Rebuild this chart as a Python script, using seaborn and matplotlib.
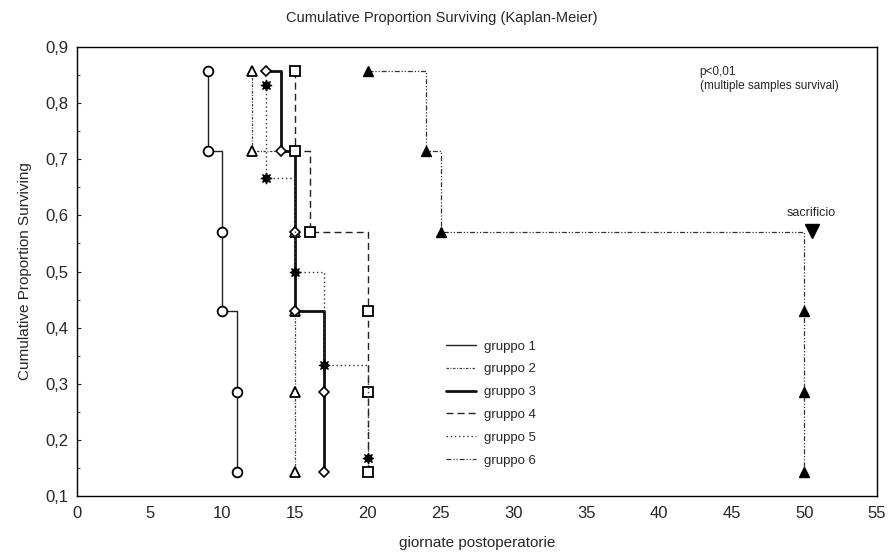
import seaborn as sns
import matplotlib.pyplot as plt
from matplotlib.lines import Line2D
from matplotlib.ticker import MultipleLocator, FuncFormatter

# Kaplan-Meier event points per group (time, cumulative proportion surviving)
labels = ['gruppo 1', 'gruppo 2', 'gruppo 3', 'gruppo 4', 'gruppo 5', 'gruppo 6']

t1 = [9, 9, 10, 10, 11, 11]
s1 = [0.857, 0.714, 0.571, 0.429, 0.286, 0.143]
t2 = [12, 12, 15, 15, 15, 15]
s2 = [0.857, 0.714, 0.571, 0.429, 0.286, 0.143]
t3 = [13, 14, 15, 15, 17, 17]
s3 = [0.857, 0.714, 0.571, 0.429, 0.286, 0.143]
t4 = [15, 15, 16, 20, 20, 20]
s4 = [0.857, 0.714, 0.571, 0.429, 0.286, 0.143]
t5 = [13, 13, 15, 17, 20]
s5 = [0.833, 0.667, 0.500, 0.333, 0.167]
t6 = [20, 24, 25, 50, 50, 50]
s6 = [0.857, 0.714, 0.571, 0.429, 0.286, 0.143]

times = [t1, t2, t3, t4, t5, t6]
surv = [s1, s2, s3, s4, s5, s6]

sns.set_style('white')
plt.rcParams['font.family'] = ['Liberation Sans', 'DejaVu Sans']

dash_dot_dot = (0, (4, 1.5, 1, 1.5, 1, 1.5))
styles = [
    dict(ls='-', lw=1.0, color='#222222'),
    dict(ls=(0, (2, 1.2, 0.8, 1.2)), lw=0.9, color='#444444'),
    dict(ls='-', lw=2.0, color='#111111'),
    dict(ls=(0, (5, 3)), lw=1.0, color='#222222'),
    dict(ls=(0, (1, 2)), lw=1.0, color='#333333'),
    dict(ls=dash_dot_dot, lw=0.9, color='#333333'),
]
markers = [
    dict(marker='o', ms=7, mfc='white', mec='black', mew=1.3),
    dict(marker='^', ms=7, mfc='white', mec='black', mew=1.3),
    dict(marker='D', ms=5.5, mfc='white', mec='black', mew=1.2),
    dict(marker='s', ms=7, mfc='white', mec='black', mew=1.3),
    dict(marker=(8, 1, 0), ms=8, mfc='black', mec='black', mew=0.8),
    dict(marker='^', ms=7, mfc='black', mec='black', mew=1.0),
]

fig = plt.figure(figsize=(8.89, 5.54), dpi=100)
ax = fig.add_axes([0.0866, 0.1047, 0.9, 0.8103])

for t, s, st, mk in zip(times, surv, styles, markers):
    sns.lineplot(x=t, y=s, ax=ax, estimator=None, sort=False,
                 drawstyle='steps-post', zorder=3, **st, **mk)

ax.set_xlim(0, 55)
ax.set_ylim(0.1, 0.9)
ax.xaxis.set_major_locator(MultipleLocator(5))
ax.yaxis.set_major_locator(MultipleLocator(0.1))
ax.yaxis.set_minor_locator(MultipleLocator(0.05))
ax.yaxis.set_major_formatter(FuncFormatter(lambda v, p: f'{v:.1f}'.replace('.', ',')))
ax.tick_params(axis='y', which='major', direction='in', length=3, labelsize=12, pad=6, left=True)
ax.tick_params(axis='y', which='minor', direction='in', length=2, left=True)
ax.tick_params(axis='x', length=0, labelsize=12, pad=7)
for sp in ax.spines.values():
    sp.set_color('black')
    sp.set_linewidth(1.0)

ax.set_xlabel('giornate postoperatorie', fontsize=11, labelpad=11)
ax.set_ylabel('Cumulative Proportion Surviving', fontsize=11, labelpad=10)
fig.text(0.497, 0.967, 'Cumulative Proportion Surviving (Kaplan-Meier)',
         ha='center', va='center', fontsize=10.5)

ax.text(42.8, 0.843, 'p<0,01\n(multiple samples survival)', fontsize=8.5,
        ha='left', va='center', linespacing=1.15)
ax.text(50.5, 0.604, 'sacrificio', fontsize=9, ha='center', va='center')
ax.plot([50.5], [0.573], marker='v', ms=10, color='black', ls='none')

handles = [Line2D([0], [0], **st) for st in styles]
ax.legend(handles, labels, loc='upper left', bbox_to_anchor=(0.446, 0.373),
          frameon=False, fontsize=9.5, handlelength=2.3, handletextpad=0.6,
          labelspacing=0.8)

fig.savefig('out.png', dpi=100)
